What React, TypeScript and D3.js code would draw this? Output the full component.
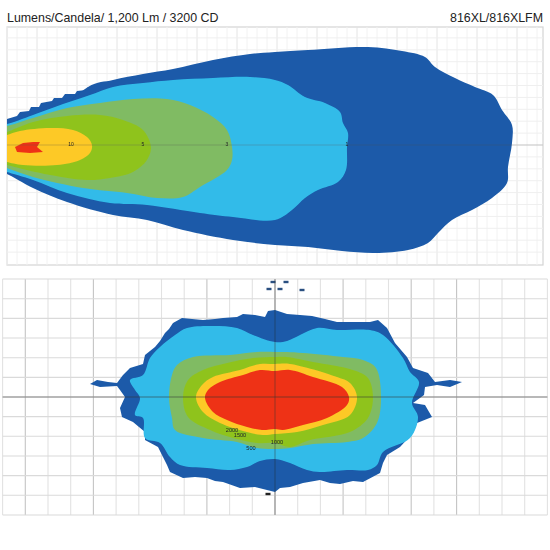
import React from "react";
import * as d3 from "d3";

type P = [number, number];

const titleLeft = "Lumens/Candela/ 1,200 Lm / 3200 CD";
const titleRight = "816XL/816XLFM";

const beamColors = { dark: "#1a5aa9", light: "#33bbe9", olive: "#80bb64", green: "#8fc31f", yellow: "#fdc927", red: "#ee3317" };

// Side view: distance along the beam, lateral offset
const topDarkStairs: P[] = [[0,26],[10,29],[13,33],[22,34],[24,38],[32,38],[34,42],[45,44],[47,47],[55,47],[58,51],[68,51],[70,54],[79,55],[81,58],[94,0],[0,0]];
const topDark: P[] = [[81,58],[106,65],[136,71],[166,76],[206,85],[243,91],[268,93],[301,95],[361,98],[395,94],[418,88],[428,78],[448,67],[468,58],[486,50],[495,35],[505,20],[505,2],[501,-22],[500,-38],[485,-53],[465,-65],[445,-75],[431,-88],[421,-98],[401,-105],[368,-108],[335,-106],[301,-102],[268,-100],[226,-95],[176,-85],[140,-75],[106,-70],[60,-57],[26,-43],[0,-29],[-3,-28]];
const topLight: P[] = [[-3,21],[0,21],[26,30],[56,41],[83,50],[106,58],[136,62],[166,65],[206,67],[243,68],[268,65],[281,60],[298,48],[318,42],[333,33],[336,22],[341,12],[340,-2],[339,-25],[331,-37],[311,-45],[298,-53],[285,-65],[268,-75],[226,-72],[193,-68],[140,-60],[103,-58],[60,-48],[26,-35],[0,-27],[-3,-26]];
const topOlive: P[] = [[-3,19],[0,19],[26,27],[60,37],[93,42],[126,46],[160,46],[183,40],[206,28],[220,15],[225,-2],[225,-15],[220,-25],[193,-42],[176,-52],[150,-53],[120,-48],[76,-43],[26,-32],[0,-23],[-3,-22]];
const topGreen: P[] = [[-3,12],[0,13],[26,23],[60,29],[93,30],[116,25],[136,15],[144,-2],[140,-15],[126,-27],[103,-33],[80,-35],[43,-30],[0,-20],[-3,-19]];
const topYellow: P[] = [[-3,9],[0,10],[13,14],[43,17],[66,15],[80,8],[85,0],[83,-8],[73,-15],[50,-20],[16,-20],[0,-17],[-3,-16]];
const topRed: P[] = [[8,-2],[16,2],[26,3],[33,3],[30,-2],[36,-7],[23,-8],[10,-7]];

// Front view: horizontal and vertical spread
const botDark: P[] = [[0,87],[-7,86],[-10,80],[-20,82],[-32,83],[-38,80],[-52,79],[-60,78],[-72,77],[-83,78],[-93,79],[-102,74],[-106,68],[-110,64],[-115,56],[-120,50],[-130,42],[-132,33],[-145,29],[-152,22],[-158,14],[-167,15],[-178,17],[-185,13],[-175,10],[-158,11],[-155,7],[-150,0],[-155,-11],[-153,-20],[-142,-25],[-130,-35],[-130,-43],[-117,-50],[-112,-60],[-108,-68],[-105,-75],[-92,-81],[-80,-80],[-68,-81],[-60,-84],[-52,-85],[-35,-91],[-20,-90],[-8,-93],[0,-95],[5,-91],[15,-90],[28,-86],[45,-83],[55,-86],[65,-87],[78,-84],[88,-85],[105,-76],[108,-66],[112,-58],[125,-50],[138,-36],[142,-26],[157,-20],[150,-8],[138,-6],[149,2],[150,10],[162,12],[175,10],[187,15],[175,17],[160,15],[153,24],[138,29],[132,40],[120,54],[112,69],[103,77],[95,75],[85,75],[62,75],[50,78],[37,81],[25,82],[12,83]];
const botLight: P[] = [[0,55],[-22,62],[-38,69],[-62,71],[-88,69],[-100,62],[-115,50],[-125,39],[-132,22],[-145,17],[-140,7],[-135,-1],[-140,-18],[-132,-21],[-130,-41],[-115,-46],[-105,-60],[-95,-68],[-68,-71],[-45,-73],[-28,-70],[-15,-64],[0,-62],[15,-66],[32,-73],[45,-75],[72,-73],[93,-73],[102,-68],[108,-55],[135,-41],[143,-20],[137,-6],[144,15],[135,25],[128,39],[108,62],[95,67],[62,67],[42,69],[25,62],[12,56]];
const botOlive: P[] = [[0,45],[-18,45],[-45,42],[-82,40],[-98,32],[-103,22],[-106,0],[-103,-21],[-100,-33],[-72,-41],[-38,-45],[-18,-51],[0,-52],[15,-51],[38,-47],[72,-45],[88,-41],[102,-26],[106,0],[101,29],[88,37],[68,40],[28,44],[12,45]];
const botGreen: P[] = [[0,40],[-22,39],[-48,34],[-72,27],[-87,17],[-92,0],[-87,-20],[-65,-33],[-42,-41],[-18,-46],[0,-46],[15,-50],[35,-43],[75,-35],[93,-21],[98,0],[93,19],[78,27],[38,35],[12,40]];
const botYellow: P[] = [[0,33],[-15,33],[-35,27],[-62,20],[-73,12],[-79,0],[-72,-15],[-55,-26],[-28,-35],[-12,-38],[0,-37],[22,-35],[48,-28],[75,-18],[82,0],[75,14],[62,20],[15,33]];
const botRed: P[] = [[0,26],[-15,27],[-32,22],[-55,15],[-67,7],[-70,-1],[-62,-15],[-48,-23],[-28,-30],[-13,-33],[0,-32],[8,-33],[28,-28],[52,-21],[72,-8],[74,0],[67,10],[38,20],[15,27]];

const specks: P[] = [[-2,115],[-6,108],[5,108],[11,115],[27,107],[-7,-97]];

const topLabels: { d: number; t: string }[] = [{ d: 64, t: "10" }, { d: 136, t: "5" }, { d: 220, t: "3" }, { d: 340, t: "1" }];
const botLabels: { x: number; y: number; t: string }[] = [{ x: -43, y: -33, t: "2000" }, { x: -35, y: -38, t: "1500" }, { x: -24, y: -51, t: "500" }, { x: 2, y: -45, t: "1000" }];

const topVTicks = d3.range(0, 54).map((i) => i * 10);
const topVMajor = [30, 70, 110, 150, 190, 230, 270, 310, 350, 390, 430, 470, 510];
const topHTicks = d3.range(-9, 10).map((i) => i * 11.9);
const botVTicks = d3.range(-12, 13).map((i) => i * 22.7);
const botVMajor = [-249.7, -181.6, -68.1, 0, 68.1, 136.2, 181.6];
const botHTicks = d3.range(-6, 7).map((i) => i * 19.66);

const topX = d3.scaleLinear().domain([0, 536]).range([7, 543]);
const topY = d3.scaleLinear().domain([118, -120]).range([27, 265]);
const botX = d3.scaleLinear().domain([-272.4, 272.4]).range([2.6, 547.4]);
const botY = d3.scaleLinear().domain([118, -118]).range([279, 515]);

const smoothLine = (x: any, y: any) =>
  d3.line<P>().x((p) => x(p[0])).y((p) => y(p[1])).curve(d3.curveCatmullRomClosed.alpha(0.5));
const rawLine = (x: any, y: any) =>
  d3.line<P>().x((p) => x(p[0])).y((p) => y(p[1])).curve(d3.curveLinearClosed);

export default function App() {
  const ts = smoothLine(topX, topY);
  const tr = rawLine(topX, topY);
  const bs = smoothLine(botX, botY);
  const br = rawLine(botX, botY);
  const font = "'Liberation Sans', Arial, sans-serif";
  return (
    <svg width={550} height={550} style={{ position: "absolute", left: 0, top: 0, background: "#fff" }} fontFamily={font}>
      <defs>
        <filter id="soft" x="-2%" y="-2%" width="104%" height="104%">
          <feGaussianBlur stdDeviation="0.45" />
        </filter>
        <clipPath id="topFrame">
          <rect x={topX(0)} y={topY(118)} width={536} height={238} />
        </clipPath>
      </defs>
      <text x={7} y={22} fontSize={12.4} fill="#222">{titleLeft}</text>
      <text x={543} y={22} fontSize={12.4} fill="#222" textAnchor="end">{titleRight}</text>

      <g filter="url(#soft)">
        {/* side view grid */}
        <rect x={topX(0)} y={topY(118)} width={536} height={238} fill="#fff" stroke="#d4d4d4" strokeWidth={1.2} />
        {topVTicks.map((v) => (
          <line key={v} x1={topX(v)} x2={topX(v)} y1={topY(118)} y2={topY(-120)} stroke={topVMajor.includes(v) ? "#e4e4e4" : "#f2f2f2"} />
        ))}
        {topHTicks.map((v) => (
          <line key={v} y1={topY(v)} y2={topY(v)} x1={topX(0)} x2={topX(536)} stroke="#efefef" />
        ))}
        <g clipPath="url(#topFrame)">
          <path d={tr(topDarkStairs)!} fill={beamColors.dark} />
          <path d={ts(topDark)!} fill={beamColors.dark} />
          <path d={ts(topLight)!} fill={beamColors.light} />
          <path d={ts(topOlive)!} fill={beamColors.olive} />
          <path d={ts(topGreen)!} fill={beamColors.green} />
          <path d={ts(topYellow)!} fill={beamColors.yellow} />
          <path d={tr(topRed)!} fill={beamColors.red} />
        </g>
        <line x1={topX(0)} x2={topX(536)} y1={topY(0)} y2={topY(0)} stroke="#555" strokeOpacity={0.35} strokeWidth={0.8} />
        {topLabels.map((l) => (
          <text key={l.t} x={topX(l.d)} y={topY(-1)} fontSize={5} fill="#222" textAnchor="middle">{l.t}</text>
        ))}

        {/* front view grid */}
        {botVTicks.map((v) => (
          <line key={v} x1={botX(v)} x2={botX(v)} y1={botY(118)} y2={botY(-118)} stroke={botVMajor.includes(Math.round(v * 10) / 10) ? "#c4c4c4" : "#e2e2e2"} strokeWidth={1.1} />
        ))}
        {botHTicks.map((v) => (
          <line key={v} y1={botY(v)} y2={botY(v)} x1={botX(-272.4)} x2={botX(272.4)} stroke="#dadada" strokeWidth={1.1} />
        ))}
        <path d={br(botDark)!} fill={beamColors.dark} />
        <path d={bs(botLight)!} fill={beamColors.light} />
        <path d={bs(botOlive)!} fill={beamColors.olive} />
        <path d={bs(botGreen)!} fill={beamColors.green} />
        <path d={bs(botYellow)!} fill={beamColors.yellow} />
        <path d={bs(botRed)!} fill={beamColors.red} />
        {specks.map((p, i) => (
          <rect key={i} x={botX(p[0]) - 2.5} y={botY(p[1]) - 1.2} width={5} height={2.4} fill={i === 5 ? "#222" : "#2a4f80"} />
        ))}
        <line x1={botX(-272.4)} x2={botX(272.4)} y1={botY(0)} y2={botY(0)} stroke="#333" strokeOpacity={0.7} strokeWidth={0.8} />
        <line x1={botX(0)} x2={botX(0)} y1={botY(118)} y2={botY(-118)} stroke="#333" strokeOpacity={0.6} strokeWidth={0.8} />
        {botLabels.map((l) => (
          <text key={l.t} x={botX(l.x)} y={botY(l.y) + 2} fontSize={5.6} fill="#222" textAnchor="middle">{l.t}</text>
        ))}
      </g>
    </svg>
  );
}
